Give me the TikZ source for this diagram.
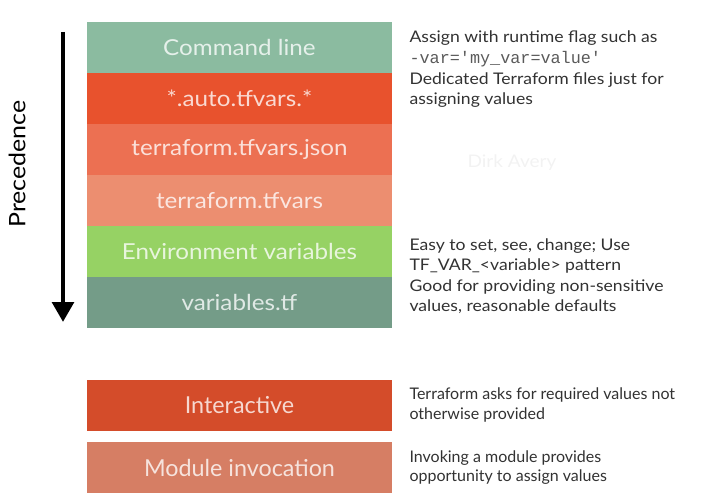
\documentclass[tikz,border=0pt]{standalone}
\usepackage{fontspec}
\setmainfont{Lato}[FakeStretch=1.1]
\setmonofont{Liberation Mono}
\newfontfamily\condfont{Lato}
\usetikzlibrary{arrows.meta,positioning}

\definecolor{cmdGreen}{RGB}{139,187,160}
\definecolor{autoRed}{RGB}{232,82,45}
\definecolor{jsonOrange}{RGB}{236,112,82}
\definecolor{tfvarsSalmon}{RGB}{236,142,112}
\definecolor{envGreen}{RGB}{150,210,100}
\definecolor{varsTeal}{RGB}{116,156,136}
\definecolor{interRed}{RGB}{212,76,42}
\definecolor{moduleSalmon}{RGB}{214,126,100}
\definecolor{darkText}{RGB}{50,50,50}
\definecolor{monoText}{RGB}{90,90,90}

\newcommand\stackLeft{87}
\newcommand\stackTop{22}
\newcommand\rowWidth{305}
\newcommand\rowHeight{51}
\newcommand\descGap{12.75pt}

\tikzset{
  layer/.style={minimum width=228.75pt, minimum height=38.25pt, inner sep=0pt,
    text=#1!22!white, fill=#1, font=\fontsize{16.5}{20}\selectfont},
  extra/.style={layer=#1, font=\condfont\fontsize{17.5}{20}\selectfont},
  desc/.style={anchor=west, align=left, inner sep=0pt, text=darkText,
    font=\fontsize{12}{15.2}\selectfont},
}

\begin{document}
\begin{tikzpicture}[x=0.75pt, y=-0.75pt]
  \useasboundingbox (0,0) rectangle (720,503);

  % precedence stack
  \foreach \col/\name [count=\i] in {cmdGreen/Command line, autoRed/*.auto.tfvars.*,
      jsonOrange/terraform.tfvars.json, tfvarsSalmon/terraform.tfvars,
      envGreen/Environment variables, varsTeal/variables.tf}{
    \node[layer=\col] (row\i) at (\stackLeft+\rowWidth/2, \stackTop+\rowHeight*\i-\rowHeight/2) {\name};
  }

  \node[extra=interRed, below=38.25pt of row6] (interactive) {Interactive};
  \node[extra=moduleSalmon, below=8.25pt of interactive] (module) {Module invocation};

  % arrow and its label
  \coordinate (arrowTop) at (63,32);
  \coordinate (arrowTip) at (63,322);
  \draw[line width=3.6pt, -{Triangle[width=16pt, length=15pt]}] (arrowTop) -- (arrowTip);
  \node[rotate=90, font=\fontsize{17}{19}\selectfont] (precedence) at (17,164) {Precedence};

  \node[text=black!5, font=\fontsize{13}{15}\selectfont] (watermark) at (512,163) {Dirk Avery};

  % descriptions
  \node[desc, right=\descGap of row1, yshift=-1pt] (descCmd) {Assign with runtime flag such as\\
    {\ttfamily\color{monoText}\fontsize{12.6}{15.2}\selectfont -var='my\_var=value'}};
  \node[desc, right=\descGap of row2, yshift=6.4pt] (descAuto) {Dedicated Terraform files just for\\assigning values};
  \node[desc, right=\descGap of row5, yshift=-3.4pt] (descEnv) {Easy to set, see, change; Use\\TF\_VAR\_<variable> pattern};
  \node[desc, right=\descGap of row6, yshift=4.5pt] (descVars) {Good for providing non-sensitive\\values, reasonable defaults};
  \node[desc, right=\descGap of interactive, font=\condfont\fontsize{12}{14.8}\selectfont] (descInter) {Terraform asks for required values not\\otherwise provided};
  \node[desc, right=\descGap of module, font=\condfont\fontsize{12}{14.8}\selectfont] (descModule) {Invoking a module provides\\opportunity to assign values};
\end{tikzpicture}
\end{document}
